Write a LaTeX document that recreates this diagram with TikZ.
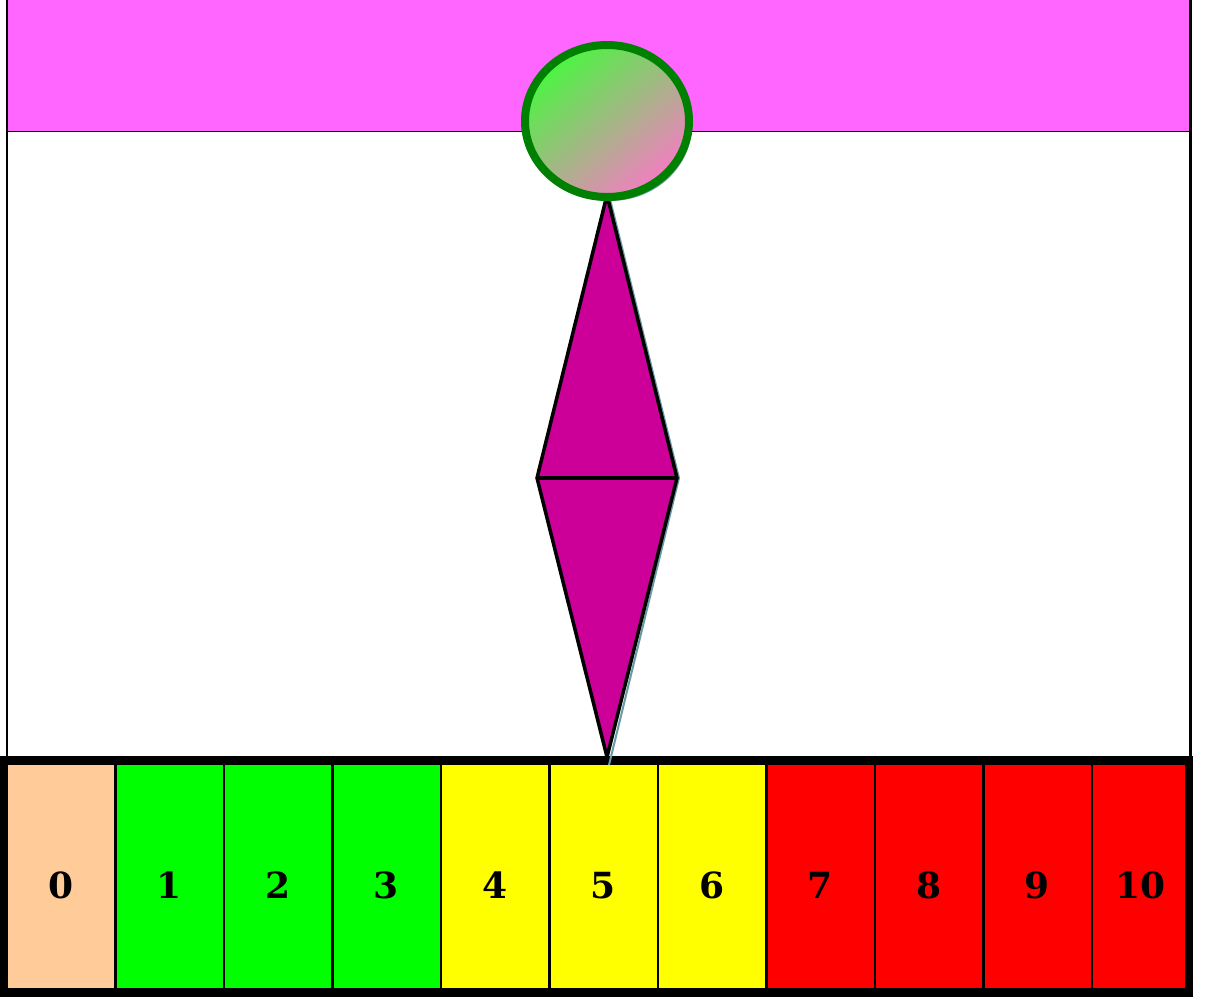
\documentclass[tikz,border=0pt]{standalone}
\usepackage{fontspec}
\setmainfont{DejaVu Serif}
\usetikzlibrary{shapes.geometric,shadows}

\definecolor{bandpink}{RGB}{255,102,255}
\definecolor{needle}{RGB}{204,0,153}
\definecolor{bulbgreen}{RGB}{0,128,0}
\definecolor{bulbtop}{RGB}{75,245,65}
\definecolor{bulbbottom}{RGB}{245,125,195}
\definecolor{shadowteal}{RGB}{105,155,165}
\definecolor{peach}{RGB}{255,204,153}
\definecolor{lowgreen}{RGB}{0,255,0}
\definecolor{midyellow}{RGB}{255,255,0}
\definecolor{highred}{RGB}{255,0,0}

\tikzset{
  cell/.style={draw=black, line width=2.5pt, minimum height=226pt,
    inner sep=0pt, text height=44pt, text depth=0pt, anchor=north west,
    font=\fontsize{36}{40}\selectfont\bfseries},
  bulb/.style={ellipse, draw=bulbgreen, line width=8pt,
    minimum width=164pt, minimum height=152pt,
    top color=bulbtop, bottom color=bulbbottom, shading angle=40,
    drop shadow={shadow xshift=3pt, shadow yshift=-4pt, fill=shadowteal, opacity=1}},
}

\begin{document}
\begin{tikzpicture}[x=1pt,y=-1pt]
  \useasboundingbox (0,0) rectangle (1208,997);

  % Band and frame
  \fill[bandpink] (7,0) rectangle (1190,131);
  \draw[line width=1pt] (7,131) -- (1190,131);
  \draw[line width=2pt] (7,0) -- (7,757);
  \draw[line width=3pt] (1190,0) -- (1190,757);

  % Scale
  \foreach \n/\col/\w in {0/peach/108.5,1/lowgreen/108.5,2/lowgreen/108.5,
                          3/lowgreen/108.5,4/midyellow/108.5,5/midyellow/108.5,
                          6/midyellow/108.5,7/highred/108.5,8/highred/108.5,
                          9/highred/108.5,10/highred/97}{
    \node[cell, fill=\col, minimum width=\w pt] (c\n) at ({5.5+108.5*\n},762) {\n};
  }
  \draw[line width=8pt] (4,760) rectangle (1189,993);

  % Needle
  \coordinate (tip) at (607,195);
  \coordinate (west) at (537,478);
  \coordinate (east) at (677,478);
  \coordinate (point) at (607,757);
  \draw[shadowteal, line width=2pt] ([xshift=2pt]tip) -- ([xshift=2pt]east)
    -- ([xshift=2pt,yshift=-8pt]point);
  \filldraw[fill=needle, draw=black, line width=3.5pt, line join=miter]
    (tip) -- (east) -- (point) -- (west) -- cycle;
  \draw[line width=3.5pt] (west) -- (east);

  % Bulb
  \node[bulb] (knob) at (607,121) {};
\end{tikzpicture}
\end{document}
